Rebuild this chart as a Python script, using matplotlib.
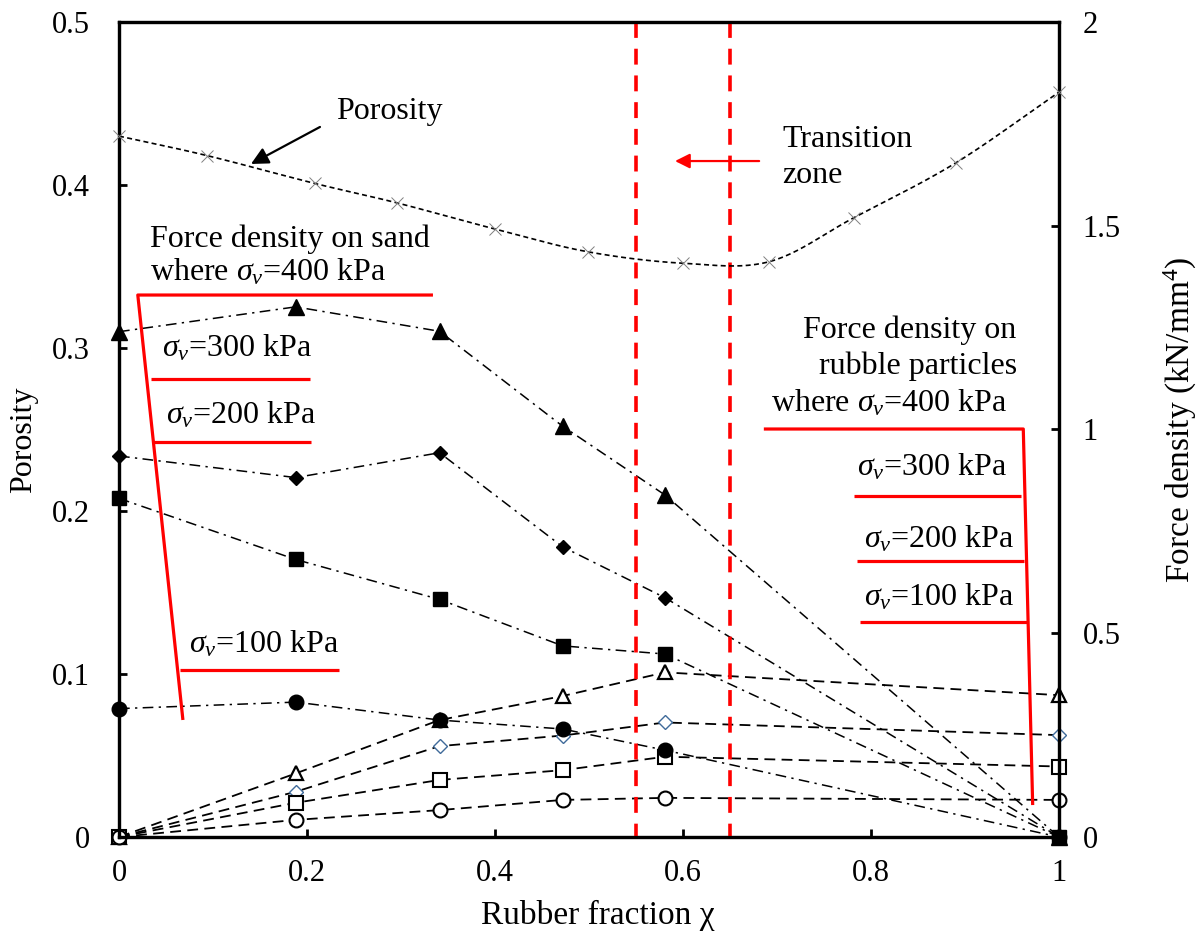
import numpy as np
import matplotlib
matplotlib.use("Agg")
import matplotlib.pyplot as plt

plt.rcParams['font.family'] = ['Liberation Serif', 'DejaVu Serif']
plt.rcParams['mathtext.fontset'] = 'custom'
plt.rcParams['mathtext.rm'] = 'Liberation Serif'
plt.rcParams['mathtext.it'] = 'Liberation Serif:italic'
plt.rcParams['mathtext.bf'] = 'Liberation Serif:bold'

# ---- data -------------------------------------------------------------
# porosity vs rubber fraction (left axis)
por_x = [0.0, 0.094, 0.208, 0.296, 0.400, 0.499, 0.600, 0.692, 0.782, 0.890, 1.0]
por_y = [0.430, 0.418, 0.401, 0.389, 0.373, 0.359, 0.352, 0.353, 0.380, 0.4135, 0.457]

# force density (right axis), kN/mm^4
chi = [0.0, 0.188, 0.341, 0.472, 0.581, 1.0]
sand_400 = [1.240, 1.301, 1.241, 1.008, 0.839, 0.0]
sand_300 = [0.935, 0.882, 0.943, 0.712, 0.587, 0.0]
sand_200 = [0.831, 0.681, 0.583, 0.469, 0.449, 0.0]
sand_100 = [0.315, 0.331, 0.287, 0.265, 0.213, 0.0]
rub_400 = [0.0, 0.156, 0.287, 0.346, 0.404, 0.348]
rub_300 = [0.0, 0.111, 0.223, 0.249, 0.281, 0.250]
rub_200 = [0.0, 0.084, 0.140, 0.164, 0.197, 0.173]
rub_100 = [0.0, 0.042, 0.066, 0.091, 0.096, 0.091]

x_ticks = [0, 0.2, 0.4, 0.6, 0.8, 1]
x_ticklabels = ['0', '0.2', '0.4', '0.6', '0.8', '1']
yl_ticks = [0, 0.1, 0.2, 0.3, 0.4, 0.5]
yl_ticklabels = ['0', '0.1', '0.2', '0.3', '0.4', '0.5']
yr_ticks = [0, 0.5, 1, 1.5, 2]
yr_ticklabels = ['0', '0.5', '1', '1.5', '2']
transition = [0.55, 0.65]


def smooth_path(xs, ys, n=24):
    """Catmull-Rom curve through the points (smoothed line rendering)."""
    pts = np.column_stack([xs, ys]).astype(float)
    P = np.vstack([2 * pts[0] - pts[1], pts, 2 * pts[-1] - pts[-2]])
    t = np.linspace(0, 1, n, endpoint=False)[:, None]
    segs = []
    for i in range(1, len(P) - 2):
        p0, p1, p2, p3 = P[i - 1], P[i], P[i + 1], P[i + 2]
        segs.append(0.5 * (2 * p1 + (-p0 + p2) * t
                           + (2 * p0 - 5 * p1 + 4 * p2 - p3) * t ** 2
                           + (-p0 + 3 * p1 - 3 * p2 + p3) * t ** 3))
    segs.append(pts[-1:])
    out = np.vstack(segs)
    return out[:, 0], out[:, 1]


W, H = 1199, 936
fig = plt.figure(figsize=(W / 100, H / 100), dpi=100)
L, R, T, B = 119, 1059, 22, 837
ax = fig.add_axes([L / W, 1 - B / H, (R - L) / W, (B - T) / H])
ax2 = ax.twinx()

TFS = 22   # tick labels
AFS = 23   # annotation text
LFS = 24   # axis titles
for a in (ax, ax2):
    for s in a.spines.values():
        s.set_linewidth(2.3)
ax.set_xlim(0, 1)
ax.set_ylim(0, 0.5)
ax2.set_ylim(0, 2)
ax.set_xticks(x_ticks)
ax.set_xticklabels(x_ticklabels, fontsize=TFS)
ax.set_yticks(yl_ticks)
ax.set_yticklabels(yl_ticklabels, fontsize=TFS)
ax2.set_yticks(yr_ticks)
ax2.set_yticklabels(yr_ticklabels, fontsize=TFS)
ax.tick_params(axis='x', direction='in', length=6, width=2, pad=16, top=False)
ax.tick_params(axis='y', direction='in', length=6, width=2, pad=21, right=False)
ax2.tick_params(axis='y', direction='in', length=6, width=2, pad=17)

fig.text(24 / W, 1 - 440 / H, 'Porosity', rotation=90, ha='center', va='center', fontsize=LFS - 1)
fig.text(1180 / W, 1 - 420 / H, 'Force density (kN/mm$^{4}$)', rotation=90,
         ha='center', va='center', fontsize=LFS)
fig.text(598 / W, 1 - 924 / H, 'Rubber fraction χ', ha='center',
         va='baseline', fontsize=LFS)

# transition zone
for xv in transition:
    ax.plot([xv, xv], [0.5, 0], color='#ff0000', lw=2.6, ls=(0, (4.4, 3.0)), zorder=1)

# porosity curve
sx, sy = smooth_path(por_x, por_y)
ax.plot(sx, sy, color='black', lw=1.2, ls=(0, (3, 2)), zorder=3)
ax.plot(por_x, por_y, ls='none', marker='x', ms=9, mew=0.7, color='#7f7f7f',
        clip_on=False, zorder=4)

# force density on sand (filled markers, dash-dot)
dashdot = (0, (7, 3.5, 1.5, 3.5))
sand = [(sand_400, '^', 11.5), (sand_300, 'D', 7.5), (sand_200, 's', 9.5), (sand_100, 'o', 10.5)]
for vals, mk, ms in sand:
    ax2.plot(chi, vals, color='black', lw=1.1, ls=dashdot, marker=mk, ms=ms,
             mfc='black', mec='black', clip_on=False, zorder=3)

# force density on rubble particles (hollow markers, dashed)
dashed = (0, (6, 3.5))
rubble = [(rub_400, '^', 10.5, 'black', 1.6), (rub_300, 'D', 7.5, '#3f6a9a', 1.0),
          (rub_200, 's', 9.5, 'black', 1.5), (rub_100, 'o', 10, 'black', 1.5)]
for vals, mk, ms, ec, mw in rubble:
    ax2.plot(chi, vals, color='black', lw=1.3, ls=dashed, marker=mk, ms=ms,
             mfc='white', mec=ec, mew=mw, clip_on=False, zorder=2)

# annotations --------------------------------------------------------------
red = '#ff0000'
ax.text(0.231, 0.4405, 'Porosity', fontsize=AFS, va='baseline', ha='left')
ax.annotate('', xy=(0.1404, 0.4129), xytext=(0.2138, 0.4356),
            arrowprops=dict(arrowstyle='-|>', color='black', lw=1.6,
                            mutation_scale=26, shrinkA=0, shrinkB=0))

ax.text(0.706, 0.4233, 'Transition', fontsize=AFS, va='baseline', ha='left')
ax.text(0.706, 0.401, 'zone', fontsize=AFS, va='baseline', ha='left')
ax.annotate('', xy=(0.5915, 0.4147), xytext=(0.681, 0.4147),
            arrowprops=dict(arrowstyle='-|>', color=red, lw=1.6,
                            mutation_scale=22, shrinkA=0, shrinkB=0))

# sand labels (left bracket)
ax.text(0.033, 0.3620, 'Force density on sand', fontsize=AFS, va='baseline')
ax.text(0.033, 0.3417, 'where $\\sigma_v$=400 kPa', fontsize=AFS, va='baseline')
ax.text(0.0457, 0.2945, '$\\sigma_v$=300 kPa', fontsize=AFS, va='baseline')
ax.text(0.050, 0.2534, '$\\sigma_v$=200 kPa', fontsize=AFS, va='baseline')
ax.text(0.0745, 0.1129, '$\\sigma_v$=100 kPa', fontsize=AFS, va='baseline')
lk = dict(color=red, lw=2.3, clip_on=False, zorder=5, solid_capstyle='butt')
ax.plot([0.334, 0.020, 0.068], [0.3325, 0.3325, 0.0718], **lk)
ax.plot([0.034, 0.203], [0.281, 0.281], **lk)
ax.plot([0.035, 0.204], [0.2423, 0.2423], **lk)
ax.plot([0.065, 0.234], [0.1025, 0.1025], **lk)

# rubble labels (right bracket)
ax.text(0.955, 0.3061, 'Force density on', fontsize=AFS, va='baseline', ha='right')
ax.text(0.955, 0.2840, 'rubble particles', fontsize=AFS, va='baseline', ha='right')
ax.text(0.9447, 0.2613, 'where $\\sigma_v$=400 kPa', fontsize=AFS, va='baseline', ha='right')
ax.text(0.785, 0.2215, '$\\sigma_v$=300 kPa', fontsize=AFS, va='baseline')
ax.text(0.7926, 0.1779, '$\\sigma_v$=200 kPa', fontsize=AFS, va='baseline')
ax.text(0.7926, 0.1423, '$\\sigma_v$=100 kPa', fontsize=AFS, va='baseline')
ax.plot([0.686, 0.962, 0.972], [0.2503, 0.2503, 0.0196], **lk)
ax.plot([0.782, 0.960], [0.2092, 0.2092], **lk)
ax.plot([0.785, 0.963], [0.1693, 0.1693], **lk)
ax.plot([0.788, 0.966], [0.1319, 0.1319], **lk)

ax.set_zorder(ax2.get_zorder() + 1)
ax.patch.set_visible(False)

fig.savefig('out.png', dpi=100)
